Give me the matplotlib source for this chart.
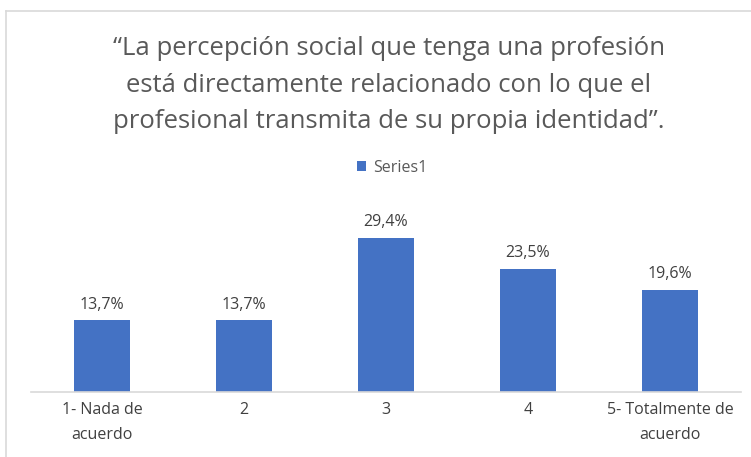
import matplotlib
matplotlib.use("Agg")
import matplotlib.pyplot as plt
from matplotlib.lines import Line2D

categories = ["1- Nada de\nacuerdo", "2", "3", "4", "5- Totalmente de\nacuerdo"]
values = [13.7, 13.7, 29.4, 23.5, 19.6]
labels = ["13,7%", "13,7%", "29,4%", "23,5%", "19,6%"]
title = ("\u201cLa percepción social que tenga una profesión\n"
         "está directamente relacionado con lo que el\n"
         "profesional transmita de su propia identidad\u201d.")

plt.rcParams['font.family'] = ['Open Sans', 'DejaVu Sans']

W, H = 751, 457
fig = plt.figure(figsize=(W / 100, H / 100), dpi=100)
ax = fig.add_axes([31 / W, 65 / H, 710 / W, 183 / H])

x = range(len(categories))
ax.bar(x, values, width=0.4, color="#4472C4", label="Series1")
for xi, v, lab in zip(x, values, labels):
    ax.text(xi, v + 1.5, lab, ha="center", va="bottom", fontsize=11.5, color="#404040")

ax.set_xlim(-0.5, len(categories) - 0.5)
ax.set_ylim(0, 35)
ax.set_yticks([])
ax.set_xticks(list(x))
ax.set_xticklabels(categories, fontsize=11.5, color="#404040", linespacing=1.75)
ax.tick_params(axis="x", length=0, pad=7)
for s in ["top", "right", "left"]:
    ax.spines[s].set_visible(False)
ax.spines["bottom"].set_color("#D9D9D9")
ax.spines["bottom"].set_linewidth(1.2)

fig.text(389 / W, 1 - 85 / H, title, ha="center", va="center", fontsize=18.5,
         color="#595959", linespacing=1.6)

# legend
fig.legend(loc="center", bbox_to_anchor=(392 / W, 1 - 168 / H), frameon=False,
           fontsize=11.5, handlelength=0.6, handleheight=0.6, handletextpad=0.4,
           labelcolor="#595959")

# chart border (top and left visible)
fig.add_artist(Line2D([6 / W, 6 / W], [0, 1 - 11 / H], color="#D9D9D9", lw=1.2))
fig.add_artist(Line2D([6 / W, 1], [1 - 11 / H, 1 - 11 / H], color="#D9D9D9", lw=1.2))

fig.savefig("out.png", dpi=100, facecolor="white")
